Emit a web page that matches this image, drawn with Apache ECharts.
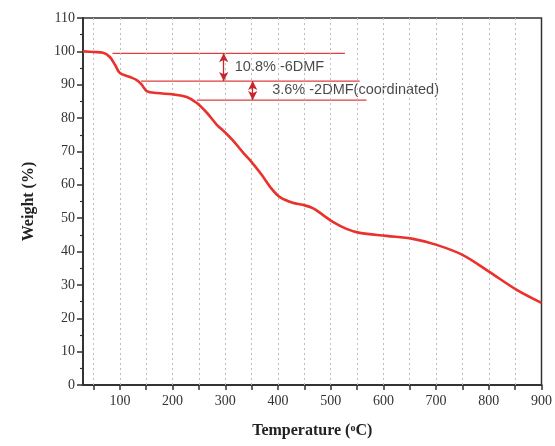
<!DOCTYPE html>
<html>
<head>
<meta charset="utf-8">
<script src="https://cdn.jsdelivr.net/npm/echarts@6/dist/echarts.min.js"></script>
<style>html,body{margin:0;padding:0;background:#fff}#c{width:555px;height:446px}</style>
</head>
<body>
<div id="c"></div>
<script>
const temps   = [30, 50, 68, 81, 91, 100, 119, 132, 142, 151, 170, 201, 227, 246, 265, 284, 299, 314, 333, 350, 369, 385, 403, 428, 447, 466, 485, 504, 530, 555, 606, 656, 701, 750, 801, 853, 900];
const weights = [100, 99.8, 99.6, 98.3, 95.9, 93.5, 92.3, 91.4, 89.9, 88.1, 87.5, 87.1, 86.3, 84.5, 81.6, 78, 75.8, 73.4, 69.8, 66.8, 63, 59.4, 56.4, 54.6, 54, 53, 51, 48.9, 46.8, 45.6, 44.7, 43.8, 42, 39, 33.9, 28.5, 24.6];
const xTickValues = [50,100,150,200,250,300,350,400,450,500,550,600,650,700,750,800,850,900];
const xLabelValues = [100,200,300,400,500,600,700,800,900];
const gridXs = [50,100,150,200,250,300,350,400,450,500,550,600,650,700,750,800,850];
// annotation levels
const levelLines = [
  {y: 99.4, x0: 86, x1: 527},
  {y: 91.1, x0: 140, x1: 555},
  {y: 85.4, x0: 246, x1: 568}
];
const arrows = [
  {x: 297, y0: 99.4, y1: 91.1},
  {x: 352, y0: 91.1, y1: 85.4}
];
const notes = [
  {x: 318, y: 95.2, text: '10.8% -6DMF'},
  {x: 389, y: 88.4, text: '3.6% -2DMF(coordinated)'}
];

const chart = echarts.init(document.getElementById('c'));
const serif = 'Liberation Serif';
const levelSeries = levelLines.map(l => ({
  type: 'line', silent: true, symbol: 'none',
  data: [[l.x0, l.y], [l.x1, l.y]],
  lineStyle: {color: '#e23c3c', width: 1.2},
  z: 4
}));
chart.setOption({
  animation: false,
  grid: {left: 83, right: 13, top: 18, bottom: 61, show: true, borderColor: '#333', borderWidth: 1.5},
  xAxis: {
    type: 'value', min: 30, max: 900,
    name: '{a|Temperature (}{s|o}{a|C)}',
    nameLocation: 'middle', nameGap: 38,
    nameTextStyle: {
      rich: {
        a: {fontFamily: serif, fontWeight: 'bold', fontSize: 16, color: '#222'},
        s: {fontFamily: serif, fontWeight: 'bold', fontSize: 10, color: '#222', verticalAlign: 'top', padding: [0,0,6,0]}
      }
    },
    axisLine: {lineStyle: {color: '#333', width: 2}},
    axisTick: {show: true, inside: false, length: 5, customValues: xTickValues, lineStyle: {color: '#333', width: 1.5}},
    axisLabel: {customValues: xLabelValues, fontFamily: serif, fontSize: 14, color: '#333', margin: 9},
    splitLine: {show: false}
  },
  yAxis: {
    type: 'value', min: 0, max: 110, interval: 10,
    name: 'Weight (%)', nameLocation: 'middle', nameGap: 46,
    nameTextStyle: {fontFamily: serif, fontWeight: 'bold', fontSize: 16, color: '#222'},
    axisLine: {show: true, lineStyle: {color: '#333', width: 2}},
    axisTick: {show: true, inside: false, length: 6, lineStyle: {color: '#333', width: 1.5}},
    minorTick: {show: true, splitNumber: 2, length: 3, lineStyle: {color: '#333', width: 1.2}},
    axisLabel: {fontFamily: serif, fontSize: 14, color: '#333', margin: 8},
    splitLine: {show: false}
  },
  series: [
    {
      type: 'line', silent: true, symbol: 'none', data: [],
      markLine: {
        silent: true, symbol: 'none', label: {show: false},
        lineStyle: {type: [2, 3], color: '#bdbdbd', width: 1},
        data: gridXs.map(v => ({xAxis: v}))
      }
    },
    {
      type: 'line', symbol: 'none', smooth: 0.35,
      data: temps.map((t, i) => [t, weights[i]]),
      lineStyle: {color: '#e8322b', width: 2.6},
      z: 5
    },
    ...levelSeries,
    {
      type: 'line', silent: true, symbol: 'none', data: [],
      itemStyle: {color: '#c8262b'},
      markLine: {
        silent: true, symbol: ['arrow', 'arrow'], symbolSize: [7, 9], label: {show: false},
        lineStyle: {type: 'solid', color: '#c8262b', width: 1.3},
        data: arrows.map(a => [{coord: [a.x, a.y0]}, {coord: [a.x, a.y1]}])
      },
      z: 4
    },
    {
      type: 'scatter', silent: true, symbolSize: 0,
      data: notes.map(n => ({value: [n.x, n.y], name: n.text})),
      label: {show: true, position: 'right', distance: 0, formatter: p => p.name,
        fontFamily: 'Liberation Sans', fontSize: 14.5, color: '#1a1a1a'}
    }
  ]
});
</script>
</body>
</html>
